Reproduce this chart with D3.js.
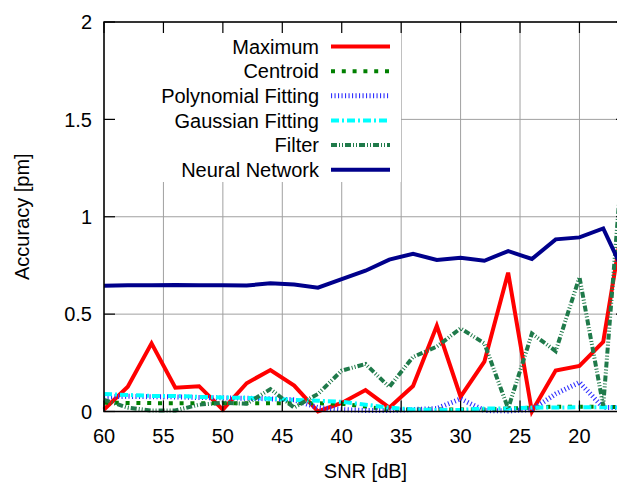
<!DOCTYPE html>
<html>
<head>
<meta charset="utf-8">
<script src="https://cdn.jsdelivr.net/npm/d3@7"></script>
<style>
  html, body { margin: 0; padding: 0; background: #fff; }
  svg { display: block; }
  text { font-family: "Liberation Sans", Arial, sans-serif; }
</style>
</head>
<body>
<svg id="chart" width="617" height="484"></svg>
<script>
// ---- Data ----
const snr = [60,58,56,54,52,50,48,46,44,42,40,38,36,34,32,30,28,26,24,22,20,18,16];
const maximum   = [0.01,0.127,0.35,0.122,0.13,0.01,0.145,0.213,0.133,0.0,0.044,0.11,0.02,0.131,0.44,0.076,0.256,0.713,0.0,0.21,0.234,0.358,1.1];
const centroid  = [0.045,0.044,0.043,0.043,0.043,0.042,0.042,0.042,0.042,0.042,0.04,0.025,0.01,0.01,0.01,0.01,0.01,0.015,0.02,0.025,0.025,0.025,0.02];
const polynomial= [0.075,0.078,0.076,0.075,0.072,0.07,0.068,0.065,0.06,0.02,0.01,0.005,0.005,0.01,0.015,0.065,0.005,0.003,0.01,0.09,0.15,0.02,0.02];
const gaussian  = [0.09,0.085,0.08,0.08,0.075,0.072,0.07,0.065,0.06,0.055,0.05,0.035,0.02,0.01,0.008,0.008,0.015,0.015,0.02,0.02,0.022,0.022,0.02];
const filter    = [0.06,0.02,0.005,0.005,0.035,0.045,0.04,0.115,0.02,0.09,0.21,0.244,0.126,0.28,0.333,0.427,0.35,0.015,0.40,0.31,0.69,0.03,1.6];
const neural    = [0.646,0.648,0.648,0.65,0.648,0.648,0.647,0.658,0.652,0.636,0.68,0.723,0.78,0.81,0.778,0.79,0.774,0.824,0.783,0.884,0.894,0.94,0.68];

const xTicks = [60,55,50,45,40,35,30,25,20];
const yTicks = [0,0.5,1,1.5,2];
const seriesNames = ["Maximum","Centroid","Polynomial Fitting","Gaussian Fitting","Filter","Neural Network"];

// ---- Styles ----
const styles = {
  "Maximum":            {color:"#ff0000", width:4, dash:null},
  "Centroid":           {color:"#008000", width:4, dash:"4,6.8"},
  "Polynomial Fitting": {color:"#3030ff", width:5, dash:"1.1,2.4"},
  "Gaussian Fitting":   {color:"#00ffff", width:4, dash:"8,3,2,3"},
  "Filter":             {color:"#1f7a4a", width:4, dash:"6,2,1,2,1,2"},
  "Neural Network":     {color:"#00008b", width:4, dash:null}
};
const seriesData = {
  "Maximum": maximum, "Centroid": centroid, "Polynomial Fitting": polynomial,
  "Gaussian Fitting": gaussian, "Filter": filter, "Neural Network": neural
};

const svg = d3.select("#chart");
const L = 104, R = 627, T = 22, B = 411.5;
const x = d3.scaleLinear().domain([60,16]).range([L,R]);
const y = d3.scaleLinear().domain([0,2]).range([B,T]);

// grid
const grid = svg.append("g").attr("stroke","#a0a0a0").attr("stroke-width",1);
xTicks.forEach(t => grid.append("line").attr("x1",x(t)).attr("x2",x(t)).attr("y1",T).attr("y2",B));
yTicks.forEach(t => grid.append("line").attr("x1",L).attr("x2",R).attr("y1",y(t)).attr("y2",y(t)));

// legend background (opaque key)
svg.append("rect").attr("x",L+1).attr("y",T+1).attr("width",401-L-1).attr("height",182-T-1).attr("fill","#fff");

// data lines
const line = d3.line().x((d,i)=>x(snr[i])).y(d=>y(d));
seriesNames.forEach(name => {
  const s = styles[name];
  svg.append("path").datum(seriesData[name])
    .attr("d", line)
    .attr("fill","none")
    .attr("stroke", s.color)
    .attr("stroke-width", s.width)
    .attr("stroke-dasharray", s.dash)
    .attr("stroke-linejoin","miter")
    .attr("stroke-linecap","butt");
});

// border
svg.append("rect").attr("x",L).attr("y",T).attr("width",R-L).attr("height",B-T)
  .attr("fill","none").attr("stroke","#000").attr("stroke-width",1.5);

// ticks (inward, mirrored)
const tk = svg.append("g").attr("stroke","#000").attr("stroke-width",1.2);
const tl = 11;
xTicks.forEach(t => {
  tk.append("line").attr("x1",x(t)).attr("x2",x(t)).attr("y1",B).attr("y2",B-tl);
  tk.append("line").attr("x1",x(t)).attr("x2",x(t)).attr("y1",T).attr("y2",T+tl);
});
yTicks.forEach(t => {
  tk.append("line").attr("x1",L).attr("x2",L+tl).attr("y1",y(t)).attr("y2",y(t));
  tk.append("line").attr("x1",R).attr("x2",R-tl).attr("y1",y(t)).attr("y2",y(t));
});

// tick labels
const fs = 20;
xTicks.forEach(t => svg.append("text").attr("x",x(t)).attr("y",443)
  .attr("text-anchor","middle").attr("font-size",fs).text(t));
yTicks.forEach(t => svg.append("text").attr("x",92).attr("y",y(t)).attr("dy","0.36em")
  .attr("text-anchor","end").attr("font-size",fs).text(t));

// axis labels
svg.append("text").attr("x",(L+R)/2).attr("y",478).attr("text-anchor","middle")
  .attr("font-size",fs).text("SNR [dB]");
svg.append("text").attr("transform",`translate(29,${(T+B)/2}) rotate(-90)`)
  .attr("text-anchor","middle").attr("font-size",fs).text("Accuracy [pm]");

// legend
const rowY = d3.scaleLinear().domain([0,5]).range([46.5,169.7]);
seriesNames.forEach((name,i) => {
  const s = styles[name];
  const yy = rowY(i);
  svg.append("text").attr("x",319).attr("y",yy).attr("dy","0.36em")
    .attr("text-anchor","end").attr("font-size",fs).text(name);
  svg.append("line").attr("x1",331).attr("x2",390).attr("y1",yy).attr("y2",yy)
    .attr("stroke",s.color).attr("stroke-width",s.width)
    .attr("stroke-dasharray",s.dash).attr("stroke-linecap","butt");
});
</script>
</body>
</html>
